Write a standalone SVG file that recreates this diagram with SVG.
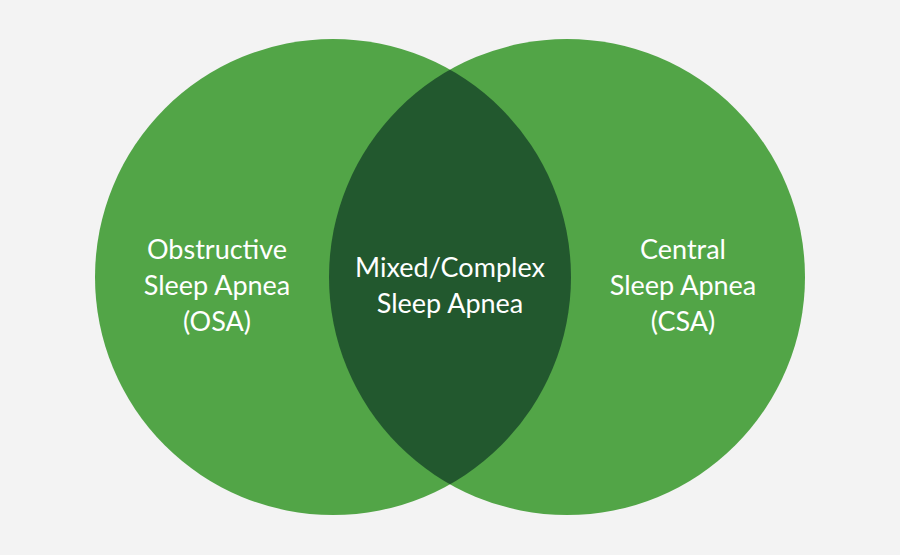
<svg xmlns="http://www.w3.org/2000/svg" width="900" height="555" viewBox="0 0 900 555">
<style>
.c{fill:#52a547}
.t{fill:#fff;font-family:Lato,"Open Sans",sans-serif;font-size:27px;text-anchor:middle}
</style>
<defs><clipPath id="cl"><circle cx="333" cy="277" r="238"/></clipPath></defs>
<rect width="900" height="555" fill="#f3f3f3"/>
<g id="osa"><circle class="c" cx="333" cy="277" r="238"/>
<text class="t" x="217" y="259">Obstructive</text><text class="t" x="217" y="295">Sleep Apnea</text><text class="t" x="217" y="331">(OSA)</text></g>
<g id="csa"><circle class="c" cx="567" cy="277" r="238"/>
<text class="t" x="683" y="259">Central</text><text class="t" x="683" y="295">Sleep Apnea</text><text class="t" x="683" y="331">(CSA)</text></g>
<g id="mixed"><circle cx="567" cy="277" r="238" fill="#22582e" clip-path="url(#cl)"/>
<text class="t" x="450" y="277">Mixed/Complex</text><text class="t" x="450" y="313">Sleep Apnea</text></g>
<g id="connectors"/>
</svg>
